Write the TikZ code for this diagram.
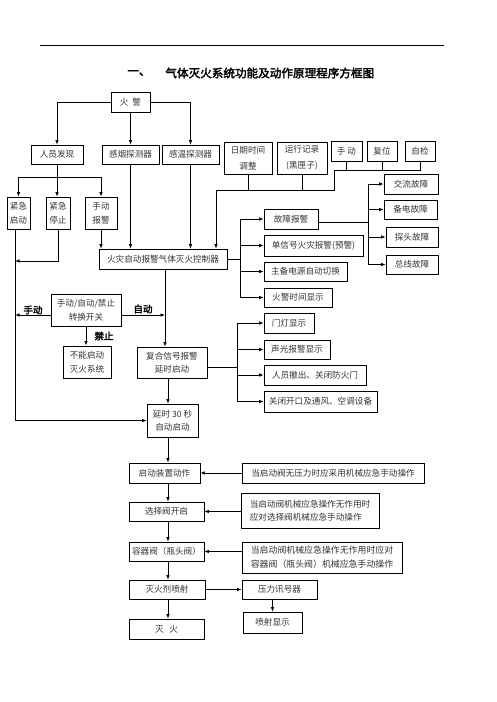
\documentclass[tikz,border=0pt]{standalone}
\usepackage{fontspec}
\newfontfamily\cjk{Noto Sans CJK SC}
\newfontfamily\cjkb[FakeBold=2.5]{Noto Sans CJK SC}
\usetikzlibrary{arrows.meta}
\begin{document}
\begin{tikzpicture}[x=1pt,y=-1pt,line width=0.8pt,
  box/.style={draw,line width=0.8pt,inner sep=0pt,align=center,
    font=\cjk\fontsize{8.6}{13.5}\selectfont,text=black!80},
  arr/.style={-{Latex[length=4.5pt,width=3.6pt]}},
  lbl/.style={inner sep=0pt,font=\cjkb\fontsize{9.5}{11}\selectfont},
  ttl/.style={inner sep=0pt,font=\cjkb\fontsize{11.6}{13}\selectfont}]
\useasboundingbox (0,0) rectangle (496,702);
% top rule and title
\coordinate (r1) at (40,45);
\coordinate (r2) at (444,45);
\draw[line width=0.9pt] (r1) -- (r2);
\node[ttl,anchor=west] (t1) at (127,73) {一、};
\node[ttl,anchor=west] (t2) at (165,73) {气体灭火系统功能及动作原理程序方框图};
% boxes
\node[box,minimum width=39pt,minimum height=20pt] (hj) at (130.5,102) {火\ \ 警};
\node[box,minimum width=52pt,minimum height=19pt] (ry) at (57,154.5) {人员发现};
\node[box,minimum width=57pt,minimum height=19pt] (gy) at (130.5,154.5) {感烟探测器};
\node[box,minimum width=57pt,minimum height=19pt] (gw) at (190.5,154.5) {感温探测器};
\node[box,minimum width=48pt,minimum height=32pt,font=\cjk\fontsize{8.6}{16}\selectfont] (rq) at (248,158) {日期时间\\调整};
\node[box,minimum width=50pt,minimum height=32pt,font=\cjk\fontsize{8.6}{16}\selectfont] (yx) at (302,158) {运行记录\\(黑匣子)};
\node[box,minimum width=31pt,minimum height=20pt] (sd) at (346.5,151) {手\ 动};
\node[box,minimum width=30pt,minimum height=20pt] (fw) at (382,151) {复位};
\node[box,minimum width=30pt,minimum height=20pt] (zj) at (420,151) {自检};
\node[box,minimum width=23pt,minimum height=32pt] (jq) at (18.5,213) {紧急\\启动};
\node[box,minimum width=24pt,minimum height=32pt] (jt) at (58,213) {紧急\\停止};
\node[box,minimum width=32pt,minimum height=32pt] (sb) at (101,213) {手动\\报警};
\node[box,minimum width=128pt,minimum height=20pt] (ctl) at (163,259) {火灾自动报警气体灭火控制器};
\node[box,minimum width=54pt,minimum height=20pt] (gz) at (291,219) {故障报警};
\node[box,minimum width=99pt,minimum height=21pt] (dx) at (313.5,245.5) {单信号火灾报警(预警)};
\node[box,minimum width=83pt,minimum height=19pt] (zb) at (305.5,271.5) {主备电源自动切换};
\node[box,minimum width=68pt,minimum height=19pt] (hs) at (298,297.5) {火警时间显示};
\node[box,minimum width=54pt,minimum height=20pt] (jl) at (411,184) {交流故障};
\node[box,minimum width=53pt,minimum height=19pt] (bd) at (410.5,209.5) {备电故障};
\node[box,minimum width=52pt,minimum height=20pt] (tt) at (412,237) {探头故障};
\node[box,minimum width=52pt,minimum height=19pt] (zx) at (412,264.5) {总线故障};
\node[box,minimum width=70pt,minimum height=32pt] (sw) at (86,310) {手动/自动/禁止\\转换开关};
\node[box,minimum width=48pt,minimum height=32pt] (bn) at (87,362) {不能启动\\灭火系统};
\node[box,minimum width=70pt,minimum height=31pt] (fh) at (172,362.5) {复合信号报警\\延时启动};
\node[box,minimum width=51pt,minimum height=33pt] (ys) at (172.5,420.5) {延时 30 秒\\自动启动};
\node[box,minimum width=50pt,minimum height=20pt] (mx) at (289,323) {门灯显示};
\node[box,minimum width=66pt,minimum height=19pt] (sg) at (297,349.5) {声光报警显示};
\node[box,minimum width=102pt,minimum height=20pt] (rc) at (315,375) {人员撤出、关闭防火门};
\node[box,minimum width=113pt,minimum height=21pt] (gb) at (320.5,401.5) {关闭开口及通风、空调设备};
\node[box,minimum width=71pt,minimum height=20pt] (qd) at (164.5,473) {启动装置动作};
\node[box,minimum width=182pt,minimum height=20pt] (n1) at (333,473) {当启动阀无压力时应采用机械应急手动操作};
\node[box,minimum width=75pt,minimum height=19pt] (xz) at (166.5,511.5) {选择阀开启};
\node[box,minimum width=138pt,minimum height=35pt,align=left,font=\cjk\fontsize{8.6}{12.5}\selectfont] (n2) at (310,510.5) {当启动阀机械应急操作无作用时\\应对选择阀机械应急手动操作};
\node[box,minimum width=75pt,minimum height=19pt] (rf) at (166.5,551.5) {容器阀（瓶头阀）};
\node[box,minimum width=160pt,minimum height=31pt,align=left,font=\cjk\fontsize{8.9}{14}\selectfont] (n3) at (322,557.5) {当启动阀机械应急操作无作用时应对\\容器阀（瓶头阀）机械应急手动操作};
\node[box,minimum width=76pt,minimum height=19pt] (mh) at (167,589.5) {灭火剂喷射};
\node[box,minimum width=75pt,minimum height=19pt] (yl) at (279.5,589.5) {压力讯号器};
\node[box,minimum width=59pt,minimum height=21pt] (ps) at (272.5,622.5) {喷射显示};
\node[box,minimum width=75pt,minimum height=20pt] (mm) at (166.5,629) {灭\ \ \ 火};
% labels
\node[lbl] (l1) at (33,310) {手动};
\node[lbl] (l2) at (143,309) {自动};
\node[lbl] (l3) at (104,336) {禁止};
% coordinates
\coordinate (j1) at (57,177);
\coordinate (b1) at (216,190);
\coordinate (b2) at (334,190);
\coordinate (b3) at (334,170);
\coordinate (c1) at (240,259);
\coordinate (f1) at (368,222);
\coordinate (lb) at (15,261);
\coordinate (lm) at (15,315);
\coordinate (cx) at (165,0);
\coordinate (mc) at (168,0);
\coordinate (d1) at (237,367);
% fire alarm
\draw[arr] (hj.west) -| (ry.north);
\draw[arr] (hj.south) -- (gy.north);
\draw[arr] (hj.east) -| (gw.north);
% personnel
\draw (ry.south) -- (j1);
\draw[arr] (j1) -| (jq.north);
\draw[arr] (j1) -| (sb.north);
\draw[arr] (j1) -- (j1 |- jt.north);
% into controller
\draw[arr] (sb.south) -- (sb.south |- ctl.north);
\draw[arr] (gy.south) -- (gy.south |- ctl.north);
\draw[arr] (gw.south) -- (gw.south |- ctl.north);
\draw (rq.south) -- (rq.south |- b1);
\draw (yx.south) -- (yx.south |- b1);
\draw (sd.south) -- (sd.south |- b3);
\draw (fw.south) -- (fw.south |- b3);
\draw[arr] (zj.south) -- (zj.south |- b3) -- (b3) -- (b2) -- (b1) -- (b1 |- ctl.north);
% controller outputs
\draw (ctl.east) -- (c1);
\draw[arr] (c1) |- (gz.west);
\draw[arr] (c1) |- (dx.west);
\draw[arr] (c1) |- (zb.west);
\draw[arr] (c1) |- (hs.west);
\draw (gz.east |- f1) -- (f1);
\draw[arr] (f1) |- (jl.west);
\draw[arr] (f1) |- (bd.west);
\draw[arr] (f1) |- (tt.west);
\draw[arr] (f1) |- (zx.west);
% left side
\draw[arr] ([xshift=-3.5pt]jq.south) |- (ys.west);
\draw[arr] (jt.south) |- (lb);
\draw[arr] (sw.west |- lm) -- (lm);
\draw[arr] (sw.east |- lm) -- (lm -| cx);
\draw[arr] (ctl.south -| cx) -- (fh.north -| cx);
\draw[arr] (sw.south) -- (sw.south |- bn.north);
\draw[arr] (fh.south -| mc) -- (ys.north -| mc);
% composite outputs
\draw (fh.east |- d1) -- (d1);
\draw[arr] (d1) |- (mx.west);
\draw[arr] (d1) |- (sg.west);
\draw[arr] (d1) |- (rc.west);
\draw[arr] (d1) |- (gb.west);
% lower chain
\draw[arr] (ys.south -| mc) -- (qd.north -| mc);
\draw[arr] (qd.south -| mc) -- (xz.north -| mc);
\draw[arr] (xz.south -| mc) -- (rf.north -| mc);
\draw[arr] (rf.south -| mc) -- (mh.north -| mc);
\draw[arr] (mh.south -| mc) -- (mm.north -| mc);
\draw[arr] (n1.west) -- (qd.east);
\draw[arr] (n2.west |- xz.east) -- (xz.east);
\draw[arr] (n3.west |- rf.east) -- (rf.east);
\draw[arr] (mh.east) -- (yl.west);
\draw[arr] (ps.north |- yl.south) -- (ps.north);
\end{tikzpicture}
\end{document}
